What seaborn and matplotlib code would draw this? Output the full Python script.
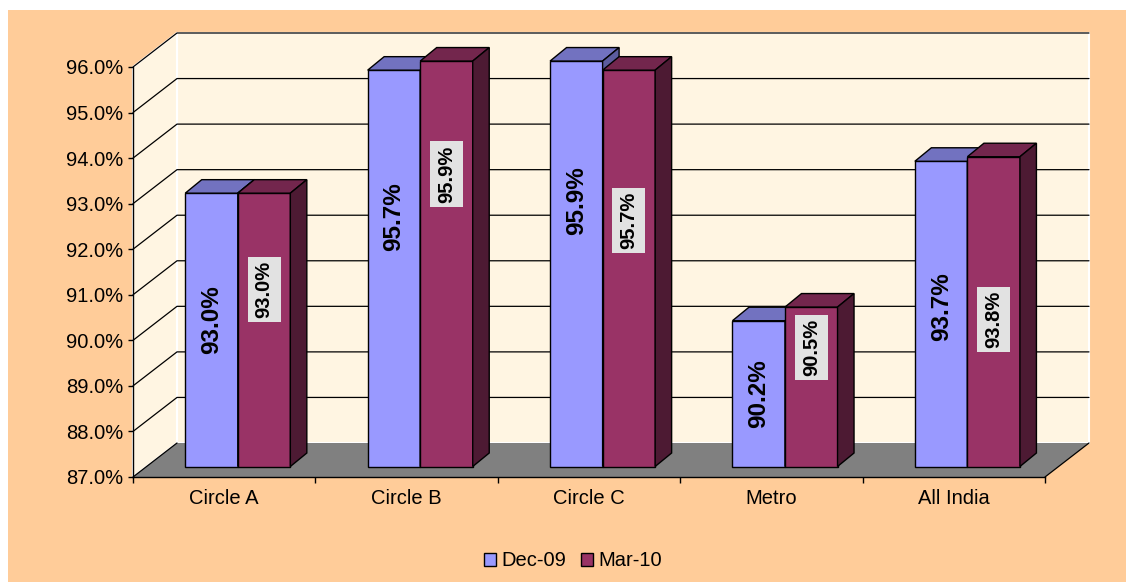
import numpy as np
import pandas as pd
import matplotlib
matplotlib.use("Agg")
import matplotlib.pyplot as plt
import seaborn as sns
from matplotlib.patches import Polygon, Rectangle, Patch
from matplotlib.lines import Line2D
from matplotlib.transforms import IdentityTransform

# ---------------- data ----------------
categories = ["Circle A", "Circle B", "Circle C", "Metro", "All India"]
series = ["Dec-09", "Mar-10"]
dec09 = [93.0, 95.7, 95.9, 90.2, 93.7]
mar10 = [93.0, 95.9, 95.7, 90.5, 93.8]
yticks = [87.0, 88.0, 89.0, 90.0, 91.0, 92.0, 93.0, 94.0, 95.0, 96.0]

# layout: vertical centres of the value labels (data units)
dec_label_y = [90.23, 92.49, 92.84, 88.59, 90.52]
mar_label_y = [90.88, 93.42, 92.40, 89.61, 90.22]

# ---------------- style ----------------
sns.set_theme(style="white")
plt.rcParams['font.family'] = ['Liberation Sans', 'DejaVu Sans']
plt.rcParams['text.color'] = 'black'

BLUE, BLUE_TOP, BLUE_SIDE = '#9999FF', '#7272C0', '#5C5C9E'
RED, RED_TOP, RED_SIDE = '#993366', '#73264D', '#4D1A33'
WALL = '#FFF5E2'
FLOOR = '#808080'
BG = '#FFCC99'
FS = 14.5

W, H = 1126, 582
fig = plt.figure(figsize=(W / 100, H / 100), dpi=100, facecolor='white')
fig.add_artist(Rectangle((8 / W, 0), 1 - 8 / W, 1 - 10 / H, transform=fig.transFigure,
                         facecolor=BG, edgecolor='none', zorder=-10))

# front plane of the 3-D box (pixel coords, top origin)
L, R, B, T = 133, 1045, 477, 67
DX, DY = 44, 34          # depth of the box
OX, OY = 13.6, 10.5      # plane on which the bars stand
BDX, BDY = 16.5, 13.5    # bar depth

ax = fig.add_axes([L / W, (H - B) / H, (R - L) / W, (B - T) / H])
ax.set_facecolor('none')
ax.set_xlim(-0.5, 4.5)
ax.set_ylim(87, 96)

def fd(x, y):
    return np.array(ax.transData.transform((x, y)))

d = np.array([DX, DY])
x0, x1 = -0.5, 4.5
p_fl, p_fr, p_tl, p_tr = fd(x0, 87), fd(x1, 87), fd(x0, 96), fd(x1, 96)

def add_poly(axes, pts, fc, ec='none', lw=0, z=0.2):
    poly = Polygon(pts, closed=True, facecolor=fc, edgecolor=ec, linewidth=lw,
                   transform=IdentityTransform(), clip_on=False, zorder=z)
    axes.add_artist(poly)
    return poly

# walls and floor
add_poly(ax, [p_tl + d, p_tr + d, p_fr + d, p_fl + d], WALL, 'white', 1.5, 0.2)
add_poly(ax, [p_fl, p_tl, p_tl + d, p_fl + d], WALL, 'white', 1.5, 0.2)
add_poly(ax, [p_fl, p_fr, p_fr + d, p_fl + d], FLOOR, 'none', 0, 0.3)

# gridlines on walls
for t in yticks:
    a = fd(x0, t)
    b = a + d
    c = fd(x1, t) + d
    pts = np.array([a, b]) if t == 87.0 else np.array([a, b, c])
    ax.add_artist(Line2D(pts[:, 0], pts[:, 1], color='black', linewidth=0.9,
                         transform=IdentityTransform(), clip_on=False, zorder=0.5))
pts = np.array([p_fr, p_fr + d])
ax.add_artist(Line2D(pts[:, 0], pts[:, 1], color='black', linewidth=0.9,
                     transform=IdentityTransform(), clip_on=False, zorder=0.5))

# axes decoration
for s in ['top', 'right']:
    ax.spines[s].set_visible(False)
for s in ['left', 'bottom']:
    ax.spines[s].set_color('black')
    ax.spines[s].set_linewidth(1)
ax.set_yticks(yticks)
ax.set_yticklabels([f"{t:.1f}%" for t in yticks])
ax.tick_params(axis='y', left=True, length=3.6, width=1, pad=3.5, labelsize=FS,
               color='black', labelcolor='black', direction='out')
ax.set_xticks(range(len(categories)))
ax.set_xticklabels(categories)
ax.set_xticks(np.arange(-0.5, len(categories), 1.0), minor=True)
ax.tick_params(axis='x', which='major', bottom=False, length=0, pad=9, labelsize=FS,
               labelcolor='black')
ax.tick_params(axis='x', which='minor', bottom=True, length=4, width=1, color='black',
               direction='out')
ax.set_xlabel('')
ax.set_ylabel('')

# ---------------- bars ----------------
ax_bar = fig.add_axes([(L + OX) / W, (H - B + OY) / H, (R - L) / W, (B - T) / H])
ax_bar.set_facecolor('none')

df = pd.DataFrame({
    "category": categories * 2,
    "series": [series[0]] * len(categories) + [series[1]] * len(categories),
    "value": dec09 + mar10,
})
sns.barplot(data=df, x="category", y="value", hue="series", order=categories,
            hue_order=series, palette=[BLUE, RED], saturation=1, width=0.576,
            edgecolor='black', linewidth=1, errorbar=None, legend=False, ax=ax_bar)
ax_bar.set_xlim(-0.5, 4.5)
ax_bar.set_ylim(87, 96)
ax_bar.axis('off')

base = 87.0
bd = np.array([BDX, BDY])
tops = [BLUE_TOP, RED_TOP]
sides = [BLUE_SIDE, RED_SIDE]
label_ys = [dec_label_y, mar_label_y]
boxed = []
for i, cont in enumerate(ax_bar.containers):
    z = 2 + 2 * i
    for j, p in enumerate(cont.patches):
        h = p.get_height()
        p.set_y(base)
        p.set_height(h - base)
        p.set_clip_on(False)
        p.set_zorder(z)
        xl, xr = p.get_x(), p.get_x() + p.get_width()
        tl = np.array(ax_bar.transData.transform((xl, h)))
        tr = np.array(ax_bar.transData.transform((xr, h)))
        br = np.array(ax_bar.transData.transform((xr, base)))
        add_poly(ax_bar, [tl, tr, tr + bd, tl + bd], tops[i], 'black', 1, z + 0.1)
        add_poly(ax_bar, [br, tr, tr + bd, br + bd], sides[i], 'black', 1, z + 0.1)
        xc = (xl + xr) / 2
        txt = f"{h:.1f}%"
        if i == 0:
            ax_bar.text(xc, label_ys[i][j], txt, rotation=90, ha='center', va='center',
                        fontsize=17.5, fontweight='bold', color='black', zorder=z + 0.5,
                        clip_on=False)
        else:
            t_ = ax_bar.text(xc, label_ys[i][j], txt, rotation=90, ha='center',
                             va='center', fontsize=14.5, fontweight='bold', color='black',
                             zorder=z + 0.5, clip_on=False)
            boxed.append((t_, z + 0.3))

# grey label boxes behind the Mar-10 labels, sized from the text extents
fig.canvas.draw()
renderer = fig.canvas.get_renderer()
for t_, z in boxed:
    bb = t_.get_window_extent(renderer)
    ex, ey = 8, 4
    ax_bar.add_artist(Rectangle((bb.x0 - ex + 1, bb.y0 - ey), bb.width + 2 * ex - 2,
                                bb.height + 2 * ey, facecolor='#E2E2E2', edgecolor='none',
                                transform=IdentityTransform(), clip_on=False, zorder=z))

# ---------------- legend ----------------
handles = [Patch(facecolor=BLUE, edgecolor='black', linewidth=1),
           Patch(facecolor=RED, edgecolor='black', linewidth=1)]
fig.legend(handles, series, loc='center', bbox_to_anchor=(573 / W, 1 - 561 / H),
           ncol=2, frameon=False, fontsize=FS, handlelength=0.6, handleheight=0.6,
           handletextpad=0.3, columnspacing=0.7, labelcolor='black')

fig.savefig("out.png", dpi=100, facecolor=fig.get_facecolor())
